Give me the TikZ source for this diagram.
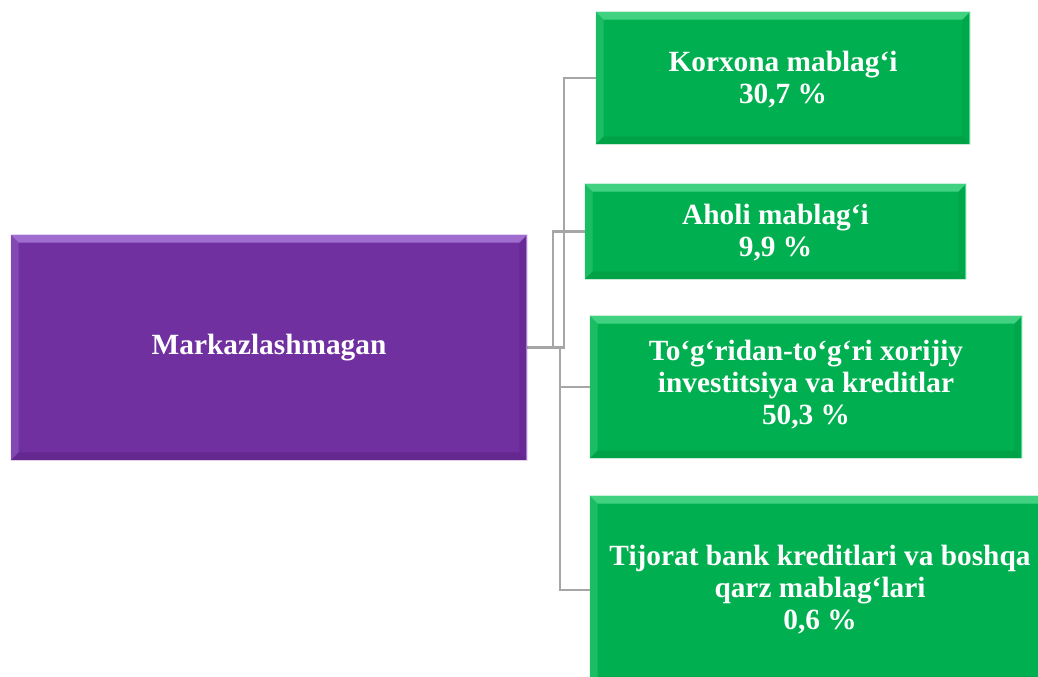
\documentclass[tikz,border=0pt]{standalone}
\usepackage{fontspec}
\setmainfont{Liberation Serif}
\usetikzlibrary{calc}
\definecolor{purp}{HTML}{7030A0}
\definecolor{purpL}{HTML}{A878D8}
\definecolor{purpD}{HTML}{5E2488}
\definecolor{grn}{HTML}{00B050}
\definecolor{grnL}{HTML}{4CD88A}
\definecolor{grnD}{HTML}{009A44}
\definecolor{conncol}{HTML}{A6A6A6}
\tikzset{
  box/.style={rectangle, inner sep=0pt, align=center, text=white,
    font=\fontsize{22}{24}\selectfont\bfseries},
  purpbox/.style={box, fill=purp},
  grnbox/.style={box, fill=grn},
  conn/.style={draw=conncol, line width=1.6pt},
}
\newcommand{\bevelbox}[3]{%
  \fill[#2,opacity=0.85] (#1.north west) -- (#1.north east) -- ([shift={(-6pt,-6pt)}]#1.north east) -- ([shift={(6pt,-6pt)}]#1.north west) -- cycle;
  \fill[#2,opacity=0.35] (#1.north west) -- ([shift={(6pt,-6pt)}]#1.north west) -- ([shift={(6pt,6pt)}]#1.south west) -- (#1.south west) -- cycle;
  \fill[#3,opacity=0.6] (#1.south west) -- ([shift={(6pt,6pt)}]#1.south west) -- ([shift={(-6pt,6pt)}]#1.south east) -- (#1.south east) -- cycle;
  \fill[#3,opacity=0.4] (#1.north east) -- ([shift={(-6pt,-6pt)}]#1.north east) -- ([shift={(-6pt,6pt)}]#1.south east) -- (#1.south east) -- cycle;
  \draw[#2,line width=0.8pt] ([xshift=-0.4pt]#1.north east) -- ([xshift=-0.4pt]#1.south east);
}
\begin{document}
\begin{tikzpicture}[x=0.75pt,y=-0.75pt]
\useasboundingbox (0,0) rectangle (1038,677);
\clip (0,0) rectangle (1038,677);
\node[purpbox, minimum width=387pt, minimum height=168.75pt] (P) at (269,347.5) {};
\node[grnbox, minimum width=280.5pt, minimum height=99pt] (B1) at (783,78) {};
\node[grnbox, minimum width=285.75pt, minimum height=71.25pt] (B2) at (775.5,231.5) {};
\node[grnbox, minimum width=324pt, minimum height=106.5pt] (B3) at (806,387) {};
\node[grnbox, minimum width=345pt, minimum height=141pt] (B4) at (820,590) {};
\draw[conn] (P.east) -| ([xshift=-24pt]B1.west) -- (B1.west);
\draw[conn] (P.east) -| ([xshift=-24pt]B2.west) -- (B2.west);
\draw[conn] (P.east) -| ([xshift=-22.5pt]B3.west) -- (B3.west);
\draw[conn] (P.east) -| ([xshift=-22.5pt]B4.west) -- (B4.west);
\bevelbox{P}{purpL}{purpD}
\bevelbox{B1}{grnL}{grnD}
\bevelbox{B2}{grnL}{grnD}
\bevelbox{B3}{grnL}{grnD}
\bevelbox{B4}{grnL}{grnD}
\node[box] (tP) at (P.center) {Markazlashmagan};
\node[box] (t1) at ([yshift=-1.5pt]B1.center) {Korxona mablag‘i\\30,7 \%};
\node[box] (t2) at ([yshift=-1pt]B2.center) {Aholi mablag‘i\\9,9 \%};
\node[box] (t3) at ([yshift=2pt]B3.center) {To‘g‘ridan-to‘g‘ri xorijiy\\investitsiya va kreditlar\\50,3 \%};
\node[box] (t4) at (820,590) {Tijorat bank kreditlari va boshqa\\qarz mablag‘lari\\0,6 \%};
\end{tikzpicture}
\end{document}
